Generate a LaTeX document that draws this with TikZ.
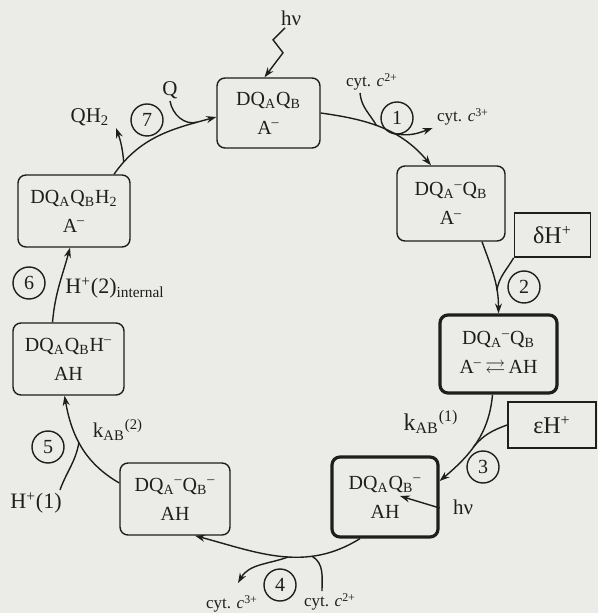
\documentclass[tikz,border=0pt]{standalone}
\usepackage{fontspec}
\usepackage{amssymb}
\setmainfont{Liberation Serif}
\usetikzlibrary{arrows.meta}

\definecolor{paper}{RGB}{235,235,232}
\definecolor{ink}{RGB}{30,30,30}

\tikzset{
  stbox/.style={draw=ink, rounded corners=4pt, line width=0.7pt, align=center, inner sep=2pt,
    font=\fontsize{10}{12}\selectfont},
  stboxbold/.style={stbox, line width=1.6pt},
  hbox/.style={draw=ink, line width=0.9pt, font=\fontsize{12}{14}\selectfont},
  stepnum/.style={draw=ink, circle, line width=0.7pt, minimum size=16pt, inner sep=0pt,
    font=\fontsize{10}{12}\selectfont},
  lbl/.style={inner sep=1pt, font=\fontsize{10.5}{12}\selectfont},
  cyt/.style={inner sep=1pt, font=\fontsize{8.5}{10}\selectfont},
  arr/.style={draw=ink, line width=0.7pt, -{Stealth[length=5pt,width=3.5pt]}},
  twig/.style={draw=ink, line width=0.7pt},
}

\begin{document}
\begin{tikzpicture}[x=0.5pt,y=-0.5pt,text=ink]
  \fill[paper] (0,0) rectangle (598,613);
  \useasboundingbox (0,0) rectangle (598,613);

  % states of the cycle
  \node[stbox, minimum width=51.5pt, minimum height=35pt] (s0) at (268.5,113)
    {DQ\textsubscript{A}Q\textsubscript{B}\\[2.5pt]A\textsuperscript{--}};
  \node[stbox, minimum width=54pt, minimum height=37.5pt] (s1) at (451,203.5)
    {DQ\textsubscript{A}\textsuperscript{--}Q\textsubscript{B}\\[2.5pt]A\textsuperscript{--}};
  \node[stboxbold, minimum width=58.5pt, minimum height=39pt] (s2) at (498.5,354)
    {DQ\textsubscript{A}\textsuperscript{--}Q\textsubscript{B}\\[2.5pt]A\textsuperscript{--}\,$\rightleftarrows$\,AH};
  \node[stboxbold, minimum width=53pt, minimum height=40pt] (s3) at (385,497)
    {DQ\textsubscript{A}Q\textsubscript{B}\textsuperscript{--}\\[2.5pt]AH};
  \node[stbox, minimum width=55pt, minimum height=36pt] (s4) at (175,499)
    {DQ\textsubscript{A}\textsuperscript{--}Q\textsubscript{B}\textsuperscript{--}\\[2.5pt]AH};
  \node[stbox, minimum width=55.5pt, minimum height=36pt] (s5) at (68.5,359)
    {DQ\textsubscript{A}Q\textsubscript{B}H\textsuperscript{--}\\[2.5pt]AH};
  \node[stbox, minimum width=56pt, minimum height=36pt] (s6) at (74,211)
    {DQ\textsubscript{A}Q\textsubscript{B}H\textsubscript{2}\\[2.5pt]A\textsuperscript{--}};

  % proton sources
  \node[hbox, minimum width=38pt, minimum height=22pt] (dh) at (552.5,235) {δH\textsuperscript{+}};
  \node[hbox, minimum width=44pt, minimum height=23pt] (eh) at (552,425) {εH\textsuperscript{+}};

  % step numbers
  \node[stepnum] (n1) at (397,118) {1};
  \node[stepnum] (n2) at (524,287) {2};
  \node[stepnum] (n3) at (483,467) {3};
  \node[stepnum] (n4) at (280,585) {4};
  \node[stepnum] (n5) at (48,447) {5};
  \node[stepnum] (n6) at (29,283) {6};
  \node[stepnum] (n7) at (147,120) {7};

  % labels
  \node[lbl] (hv1) at (291,18) {hν};
  \node[lbl] (hv2) at (463,507) {hν};
  \node[cyt] (c2t) at (372,82) {cyt. \textit{c}\textsuperscript{2+}};
  \node[cyt] (c3t) at (463,117) {cyt. \textit{c}\textsuperscript{3+}};
  \node[cyt] (c2b) at (330,602) {cyt. \textit{c}\textsuperscript{2+}};
  \node[cyt] (c3b) at (232,604) {cyt. \textit{c}\textsuperscript{3+}};
  \node[lbl, font=\fontsize{12}{14}\selectfont] (k1) at (431,422) {k\textsubscript{AB}\textsuperscript{(1)}};
  \node[lbl] (k2) at (118,430) {k\textsubscript{AB}\textsuperscript{(2)}};
  \node[lbl, font=\fontsize{11}{13}\selectfont] (h1) at (36,503) {H\textsuperscript{+}(1)};
  \node[lbl, font=\fontsize{11}{13}\selectfont] (h2) at (115,288) {H\textsuperscript{+}(2)\textsubscript{internal}};
  \node[lbl] (qh) at (90,117) {QH\textsubscript{2}};
  \node[lbl] (q) at (170,90) {Q};

  % light
  \draw[arr] ([xshift=-3pt]hv1.south) -- ++(-12,12) -- ++(10,13) -- ([xshift=-2pt]s0.north);
  \coordinate (hvin) at (400,496);
  \draw[arr] ([yshift=-5.5pt]s3.east) -- (hvin);

  % step 1
  \draw[arr] (s0.east) to[out=-8,in=130] coordinate[pos=0.45] (j1a) coordinate[pos=0.6] (j1b)
    ([xshift=-10pt]s1.north);
  \draw[twig] ([xshift=-6pt]c2t.south) to[out=-85,in=120] (j1a);
  \draw[arr] (j1b) to[out=-15,in=200] ([xshift=-1pt]c3t.south west);

  % step 2
  \draw[arr] ([xshift=15.5pt]s1.south) to[out=-70,in=90] coordinate[pos=0.7] (j2) (s2.north);
  \draw[twig] (dh.south west) to[out=-120,in=80] (j2);

  % step 3
  \draw[arr] ([xshift=-3pt]s2.south) to[out=-95,in=40] coordinate[pos=0.55] (j3) ([yshift=8pt]s3.east);
  \draw[twig] (eh.west) to[out=200,in=50] (j3);

  % step 4
  \draw[arr] ([xshift=-12.5pt]s3.south) to[out=212,in=-15] coordinate[pos=0.3] (j4a) coordinate[pos=0.45] (j4b)
    ([xshift=10pt]s4.south);
  \draw[twig] ([xshift=-4pt]c2b.north) to[out=90,in=-30] (j4a);
  \draw[arr] (j4b) to[out=200,in=60] ([xshift=3pt,yshift=5pt]c3b.north);

  % step 5
  \draw[arr] ([yshift=8pt]s4.west) to[out=150,in=-80] coordinate[pos=0.55] (j5) ([xshift=-2pt]s5.south);
  \draw[twig] ([xshift=12pt]h1.north) to[out=70,in=-100] (j5);

  % step 6
  \draw[arr] ([xshift=-8pt]s5.north) to[out=85,in=-105] ([xshift=-2pt]s6.south);

  % step 7
  \draw[arr] ([xshift=20pt]s6.north) to[out=55,in=195] coordinate[pos=0.12] (j7a) coordinate[pos=0.85] (j7b)
    ([yshift=-2pt]s0.west);
  \draw[arr] (j7a) to[out=95,in=-70] ([xshift=13pt]qh.south);
  \draw[twig] (q.south) to[out=-80,in=195] (j7b);
\end{tikzpicture}
\end{document}
